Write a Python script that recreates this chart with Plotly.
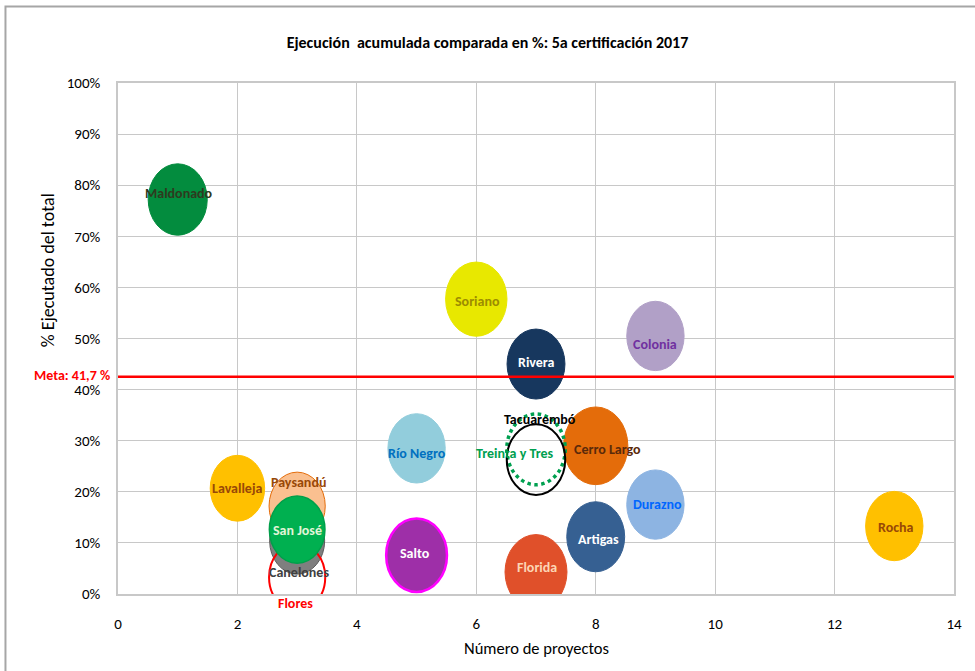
import plotly.graph_objects as go

# ---- data ----
DEPTOS = ["Maldonado", "Soriano", "Colonia", "Río Negro", "Cerro Largo", "Durazno",
          "Artigas", "Salto", "Florida", "Rocha", "Lavalleja", "Paysandú",
          "Canelones", "Flores", "San José", "Rivera", "Treinta y Tres", "Tacuarembó"]
PROYECTOS = [1, 6, 9, 5, 8, 9, 8, 5, 7, 13, 2, 3, 3, 3, 3, 7, 7, 7]
EJECUTADO = [0.772, 0.577, 0.505, 0.285, 0.290, 0.175, 0.112, 0.076, 0.043, 0.133,
             0.207, 0.172, 0.104, 0.033, 0.126, 0.450, 0.283, 0.263]
TAMANO = [1.02, 1.06, 0.99, 0.99, 1.11, 0.99, 1.00, 1.05, 1.07, 0.99,
          0.94, 0.97, 0.95, 0.97, 0.96, 1.00, 1.01, 1.01]
META = 0.417
META_LINEA = 0.425
X_TICKS = [0, 2, 4, 6, 8, 10, 12, 14]
Y_TICKS = [0, 0.1, 0.2, 0.3, 0.4, 0.5, 0.6, 0.7, 0.8, 0.9, 1.0]

# ---- styles ----
STYLE = {
    "Maldonado":      dict(fill="#038C3E", line="#038C3E", lw=1, dash="solid", tc="#2E3A1E", dx=1, dy=6),
    "Soriano":        dict(fill="#E8E800", line="#E8E800", lw=1, dash="solid", tc="#9C8C00", dx=1, dy=-2),
    "Colonia":        dict(fill="#B1A0C7", line="#B1A0C7", lw=1, dash="solid", tc="#7030A0", dx=0, dy=-9),
    "Río Negro":      dict(fill="#92CDDC", line="#92CDDC", lw=1, dash="solid", tc="#0070C0", dx=0, dy=-5),
    "Cerro Largo":    dict(fill="#E46C0A", line="#E46C0A", lw=1, dash="solid", tc="#5A2A0A", dx=12, dy=-4),
    "Durazno":        dict(fill="#8DB4E2", line="#8DB4E2", lw=1, dash="solid", tc="#0066FF", dx=2, dy=0),
    "Artigas":        dict(fill="#366092", line="#366092", lw=1, dash="solid", tc="#FFFFFF", dx=3, dy=-3),
    "Salto":          dict(fill="#9E2FA8", line="#FF00FF", lw=2.5, dash="solid", tc="#FFFFFF", dx=-2, dy=2),
    "Florida":        dict(fill="#E0502A", line="#E0502A", lw=1, dash="solid", tc="#FCD5B4", dx=1, dy=5),
    "Rocha":          dict(fill="#FFC000", line="#FFC000", lw=1, dash="solid", tc="#984807", dx=2, dy=-1),
    "Lavalleja":      dict(fill="#FFC000", line="#FFC000", lw=1, dash="solid", tc="#984807", dx=0, dy=0),
    "Paysandú":       dict(fill="#FAC090", line="#E46C0A", lw=1, dash="solid", tc="#984807", dx=1, dy=24),
    "Canelones":      dict(fill="#7F7F7F", line="#595959", lw=1, dash="solid", tc="#404040", dx=2, dy=-32),
    "Flores":         dict(fill="rgba(0,0,0,0)", line="#FF0000", lw=2, dash="solid", tc="#FF0000", dx=-2, dy=-26),
    "San José":       dict(fill="#00B050", line="#00A04A", lw=1.5, dash="solid", tc="#E2F5D8", dx=0, dy=-1),
    "Rivera":         dict(fill="#17375E", line="#17375E", lw=1, dash="solid", tc="#FFFFFF", dx=0, dy=2),
    "Treinta y Tres": dict(fill="rgba(0,0,0,0)", line="#00A050", lw=3.5, dash="dot", tc="#00A050", dx=-21, dy=-4),
    "Tacuarembó":     dict(fill="rgba(0,0,0,0)", line="#000000", lw=2, dash="solid", tc="#000000", dx=4, dy=40),
}

FONT = "Carlito, 'Liberation Sans Narrow', 'Open Sans', sans-serif"
BASE_W = 0.97   # bubble width in x units
BASE_H = 0.137  # bubble height in y units

fig = go.Figure()
# invisible trace so axes exist
fig.add_trace(go.Scatter(x=PROYECTOS, y=EJECUTADO, mode="markers",
                         marker=dict(size=1, opacity=0), hoverinfo="text",
                         text=DEPTOS, showlegend=False))

shapes = []
annotations = []
for name, xv, yv, s in zip(DEPTOS, PROYECTOS, EJECUTADO, TAMANO):
    st = STYLE[name]
    rx = BASE_W * s / 2
    ry = BASE_H * s / 2
    shapes.append(dict(type="circle", xref="x", yref="y",
                       x0=xv - rx, x1=xv + rx, y0=yv - ry, y1=yv + ry,
                       fillcolor=st["fill"],
                       line=dict(color=st["line"], width=st["lw"], dash=st["dash"]),
                       layer="above"))

for name, xv, yv in zip(DEPTOS, PROYECTOS, EJECUTADO):
    st = STYLE[name]
    annotations.append(dict(x=xv, y=yv, xref="x", yref="y", text="<b>%s</b>" % name,
                            showarrow=False, xshift=st["dx"], yshift=st["dy"],
                            font=dict(family=FONT, size=14, color=st["tc"])))

# meta line
shapes.append(dict(type="line", xref="x", yref="y", x0=0, x1=14, y0=META_LINEA, y1=META_LINEA,
                   line=dict(color="#FF0000", width=2.5), layer="above"))
annotations.append(dict(x=0, y=META_LINEA, xref="x", yref="y", xanchor="right", xshift=-6, yshift=1,
                        text="<b>Meta: %s %%</b>" % ("%.1f" % (META * 100)).replace(".", ","),
                        showarrow=False, font=dict(family=FONT, size=14, color="#FF0000")))

# axis titles
annotations.append(dict(x=-0.099, y=0.634, xref="paper", yref="paper", text="% Ejecutado del total",
                        textangle=-90, showarrow=False,
                        font=dict(family=FONT, size=18, color="#000000")))
annotations.append(dict(x=0.5, y=-0.129, xref="paper", yref="paper", text="Número de proyectos",
                        showarrow=False, font=dict(family=FONT, size=16.5, color="#000000")))

# outer chart border
shapes.append(dict(type="rect", xref="paper", yref="paper", x0=-0.1346, x1=1.2, y0=-0.3, y1=1.1497,
                   line=dict(color="#A6A6A6", width=2), fillcolor="rgba(0,0,0,0)", layer="below"))

fig.update_layout(
    width=975, height=671,
    margin=dict(l=118, r=21, t=83, b=77),
    paper_bgcolor="white", plot_bgcolor="white",
    title=dict(text="<b>Ejecución  acumulada comparada en %: 5a certificación 2017</b>",
               x=0.5, xref="container", y=1 - 42 / 671, yanchor="middle",
               font=dict(family=FONT, size=16, color="#000000")),
    shapes=shapes, annotations=annotations,
    showlegend=False,
)
fig.update_xaxes(range=[0, 14], tickvals=X_TICKS, ticktext=[str(v) for v in X_TICKS],
                 showgrid=True, gridcolor="#C8C8C8", gridwidth=1, zeroline=False,
                 showline=True, linecolor="#C8C8C8", linewidth=1.5, mirror=True,
                 ticks="", ticklabelstandoff=15,
                 tickfont=dict(family=FONT, size=15, color="#000000"))
fig.update_yaxes(range=[0, 1.0], tickvals=Y_TICKS, ticktext=["%d%%" % round(v * 100) for v in Y_TICKS],
                 showgrid=True, gridcolor="#C8C8C8", gridwidth=1, zeroline=False,
                 showline=True, linecolor="#C8C8C8", linewidth=1.5, mirror=True,
                 ticks="", ticklabelstandoff=13,
                 tickfont=dict(family=FONT, size=15, color="#000000"))

fig.write_html("out.html", config={"displayModeBar": False},
               post_script="document.body.style.margin='0';document.body.style.overflow='hidden';")
